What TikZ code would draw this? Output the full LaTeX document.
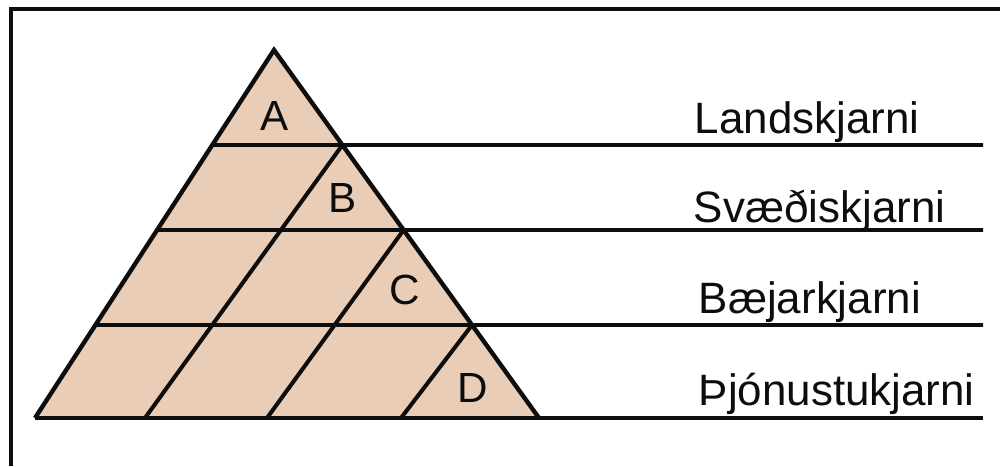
\documentclass[tikz,border=0pt]{standalone}
\usepackage{fontspec}
\setmainfont{Liberation Sans}
\usetikzlibrary{calc}
\definecolor{sandfill}{HTML}{EACDB6}
\definecolor{blackmain}{HTML}{0D0D0D}
\tikzset{every node/.append style={font=\fontsize{12.5}{15}\selectfont},
  cellname/.style={font=\fontsize{12}{14}\selectfont,inner sep=0pt},
  levelname/.style={anchor=base west,inner sep=0pt}}
\begin{document}
\begin{tikzpicture}[x=.1mm,y=-.1mm,blackmain,line width=1.05pt]
\useasboundingbox (0,0) rectangle (1000,466);
\draw[line width=1.2pt] (11,466)--(11,9)--(1000,9);
\coordinate (T) at (274,50);
\coordinate (L) at (35,418);
\coordinate (R) at (539,418);
\fill[sandfill] (T)--(L)--(R)--cycle;
% levels: left side to the right edge
\foreach \y/\k in {145/1,230/2,325/3}{
  \coordinate (l\k) at ($(T)!{(\y-50)/368}!(L)$);
  \coordinate (r\k) at ($(T)!{(\y-50)/368}!(R)$);
  \coordinate (e\k) at (983,\y);
  \draw (l\k)--(e\k);
}
\coordinate (e4) at (983,418);
\draw (L)--(e4);
% slanted cuts down to the base
\coordinate (b1) at (145,418);
\coordinate (b2) at (267,418);
\coordinate (b3) at (401,418);
\foreach \k in {1,2,3} \draw[line width=1.15pt] (r\k)--(b\k);
\draw[line width=1.25pt,line join=miter] (L)--(T)--(R);
\node[cellname] (cA) at (275,116) {A};
\node[cellname] (cB) at (343,198) {B};
\node[cellname] (cC) at (405,290) {C};
\node[cellname] (cD) at (473,388) {D};
\node[levelname] (n1) at (693,133) {Landskjarni};
\node[levelname] (n2) at (692,222) {Svæðiskjarni};
\node[levelname] (n3) at (697,313) {Bæjarkjarni};
\node[levelname] (n4) at (697,405) {Þjónustukjarni};
\end{tikzpicture}
\end{document}
